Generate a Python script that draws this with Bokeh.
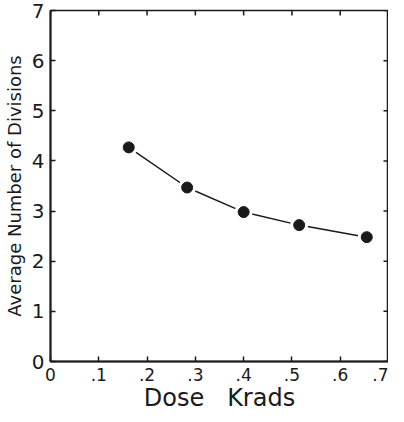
from bokeh.plotting import figure
from bokeh.models import LinearAxis, FixedTicker, Range1d
from bokeh.embed import file_html
from bokeh.resources import INLINE
import math

dose = [0.162, 0.283, 0.400, 0.515, 0.655]
divisions = [4.27, 3.47, 2.98, 2.72, 2.48]
x_ticks = [0, 0.1, 0.2, 0.3, 0.4, 0.5, 0.6, 0.7]
x_tick_labels = ["0", ".1", ".2", ".3", ".4", ".5", ".6", ".7"]
y_ticks = [0, 1, 2, 3, 4, 5, 6, 7]
x_max = 0.7
y_max = 7

INK = "#1a1a1a"
FONT = "DejaVu Sans"

p = figure(width=388, height=414, output_backend="svg", toolbar_location=None,
           x_range=Range1d(0, x_max), y_range=Range1d(0, y_max),
           min_border_left=40, min_border_right=0, min_border_top=10, min_border_bottom=4,
           x_axis_location=None, y_axis_location=None)
p.grid.visible = False
p.outline_line_color = INK
p.outline_line_width = 1.5
p.background_fill_color = "white"
p.border_fill_color = "white"

xa = LinearAxis(ticker=FixedTicker(ticks=x_ticks),
                major_label_overrides={t: l for t, l in zip(x_ticks, x_tick_labels)},
                axis_label="Dose\u00a0\u00a0\u00a0Krads")
ya = LinearAxis(ticker=FixedTicker(ticks=y_ticks), axis_label="Average Number of Divisions")
for ax in (xa, ya):
    ax.axis_line_color = INK
    ax.axis_line_width = 2
    ax.major_tick_line_color = INK
    ax.major_tick_line_width = 1.5
    ax.major_tick_in = 5
    ax.major_tick_out = 0
    ax.minor_tick_line_color = None
    ax.major_label_text_font = FONT
    ax.major_label_text_color = INK
    ax.axis_label_text_font = FONT
    ax.axis_label_text_font_style = "normal"
    ax.axis_label_text_color = INK
xa.major_label_text_font_size = "17px"
xa.major_label_standoff = 6
xa.axis_label_text_font_size = "24px"
xa.axis_label_standoff = 0
ya.major_label_text_font_size = "20px"
ya.major_label_standoff = 6
ya.axis_label_text_font_size = "18px"
ya.axis_label_standoff = 4
p.add_layout(xa, "below")
p.add_layout(ya, "left")

# inward ticks on the top and right edges of the frame
p.scatter(x_ticks, [y_max] * len(x_ticks), marker="dash", angle=math.pi / 2,
          size=10, line_color=INK, line_width=1.5)
p.scatter([x_max] * len(y_ticks), y_ticks, marker="dash",
          size=10, line_color=INK, line_width=1.5)

p.line(dose, divisions, line_color=INK, line_width=1.5)
p.scatter(dose, divisions, size=11, fill_color=INK, line_color="white", line_width=7)
p.scatter(dose, divisions, size=11, fill_color=INK, line_color=INK, line_width=1)

open("out.html", "w").write(file_html(p, INLINE))
